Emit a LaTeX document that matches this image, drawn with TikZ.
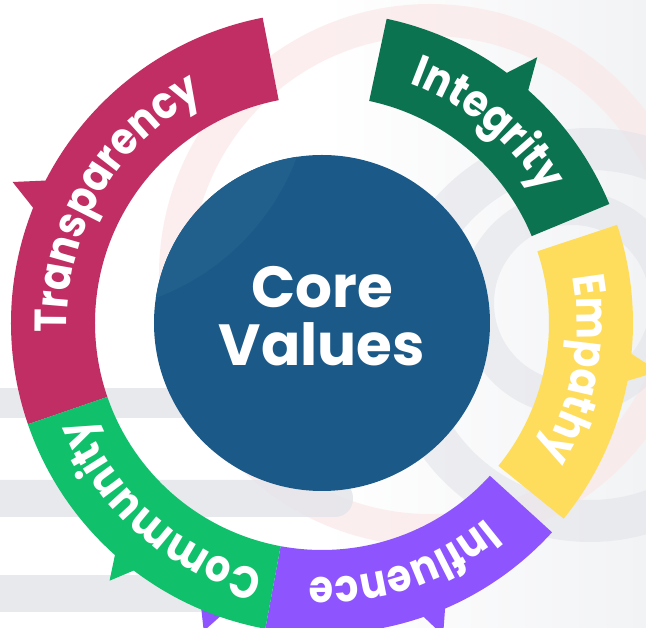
\documentclass[tikz,border=0pt]{standalone}
\usepackage{fontspec}
\newfontfamily\valfont{Poppins}
\newfontfamily\segfamily{Poppins}[FakeStretch=0.88]
\usetikzlibrary{decorations.text}

\definecolor{transpcol}{HTML}{C02E63}
\definecolor{integcol}{HTML}{0B734F}
\definecolor{empcol}{HTML}{FFDD5C}
\definecolor{inflcol}{HTML}{8E55FF}
\definecolor{commcol}{HTML}{10C06A}
\definecolor{corecol}{HTML}{1B5A88}
\definecolor{corelight}{HTML}{215F8D}
\definecolor{bgbase}{HTML}{F2F3F5}
\definecolor{bggray}{HTML}{E3E4E9}
\definecolor{bgpink}{HTML}{FBE8E8}

\newcommand{\segfont}{\segfamily\bfseries\fontsize{45}{45}\selectfont}
\newcommand{\corefont}{\valfont\bfseries\fontsize{58}{58}\selectfont}

\begin{document}
\begin{tikzpicture}[x=1pt, y=1pt,
    seglabel/.style={decorate, decoration={text along path, text align=center,
        text color=white, text={|\segfont|#1}}}]
    \useasboundingbox (-322,-305) rectangle (324,323);

    % Background
    \shade[left color=white, right color=bgbase, middle color=white]
        (-322,-305) rectangle (324,323);
    \draw[bgpink, line width=32, opacity=0.7] (108,48) circle[radius=255];
    \draw[bggray, line width=42, opacity=0.6] (268,-12) circle[radius=186];
    \draw[bggray, line width=34, opacity=0.6] (250,20) circle[radius=95];
    \fill[bggray, opacity=0.8] (-322,-65) rectangle (-132,-95);
    \fill[bggray, opacity=0.8, rounded corners=18] (-340,-157) rectangle (31,-194);
    \fill[bggray, opacity=0.8] (-322,-252) rectangle (-62,-289);

    % Core
    \node[circle, fill=corecol, minimum size=336pt, inner sep=0] (core) at (0,0) {};
    \begin{scope}
        \clip (0,0) circle[radius=168];
        \fill[corelight] (-250,250) circle[radius=240];
    \end{scope}
    \node[text=white, align=center, font=\corefont] (corelabel) at (0,7) {Core\\Values};

    % Transparency
    \fill[transpcol] (199:311) arc[start angle=199, end angle=101, radius=311]
        -- (101:227) arc[start angle=101, end angle=199, radius=227] -- cycle;
    \fill[transpcol] (158.8:306) -- (155.5:340) -- (152.2:306) -- cycle;
    \path[seglabel=Transparency] (199:255) arc[start angle=199, end angle=101, radius=255];

    % Integrity
    \fill[integcol] (78:311) arc[start angle=78, end angle=22.5, radius=311]
        -- (22.5:227) arc[start angle=22.5, end angle=78, radius=227] -- cycle;
    \fill[integcol] (54:306) -- (51:342) -- (48:306) -- cycle;
    \path[seglabel=Integrity] (78:255) arc[start angle=78, end angle=22.5, radius=255];

    % Empathy
    \fill[empcol] (18.4:311) arc[start angle=18.4, end angle=-39, radius=311]
        -- (-39:227) arc[start angle=-39, end angle=18.4, radius=227] -- cycle;
    \fill[empcol] (-5.2:306) -- (-8.2:340) -- (-11.2:306) -- cycle;
    \path[seglabel=Empathy] (18.4:255) arc[start angle=18.4, end angle=-39, radius=255];

    % Influence
    \fill[inflcol] (-42.3:311) arc[start angle=-42.3, end angle=-100.5, radius=311]
        -- (-100.5:227) arc[start angle=-100.5, end angle=-42.3, radius=227] -- cycle;
    \fill[inflcol] (-65.8:302) -- (-68.8:335) -- (-71.8:302) -- cycle;
    \fill[inflcol] (-108:300) -- (-111:330) -- (-114:300) -- cycle;
    \path[seglabel=Influence] (-42.3:255) arc[start angle=-42.3, end angle=-100.5, radius=255];

    % Community
    \fill[commcol] (-100.5:311) arc[start angle=-100.5, end angle=-161, radius=311]
        -- (-161:227) arc[start angle=-161, end angle=-100.5, radius=227] -- cycle;
    \fill[commcol] (-126.5:304) -- (-129.5:334) -- (-132.5:304) -- cycle;
    \path[seglabel=Community] (-100.5:255) arc[start angle=-100.5, end angle=-161, radius=255];

\end{tikzpicture}
\end{document}
